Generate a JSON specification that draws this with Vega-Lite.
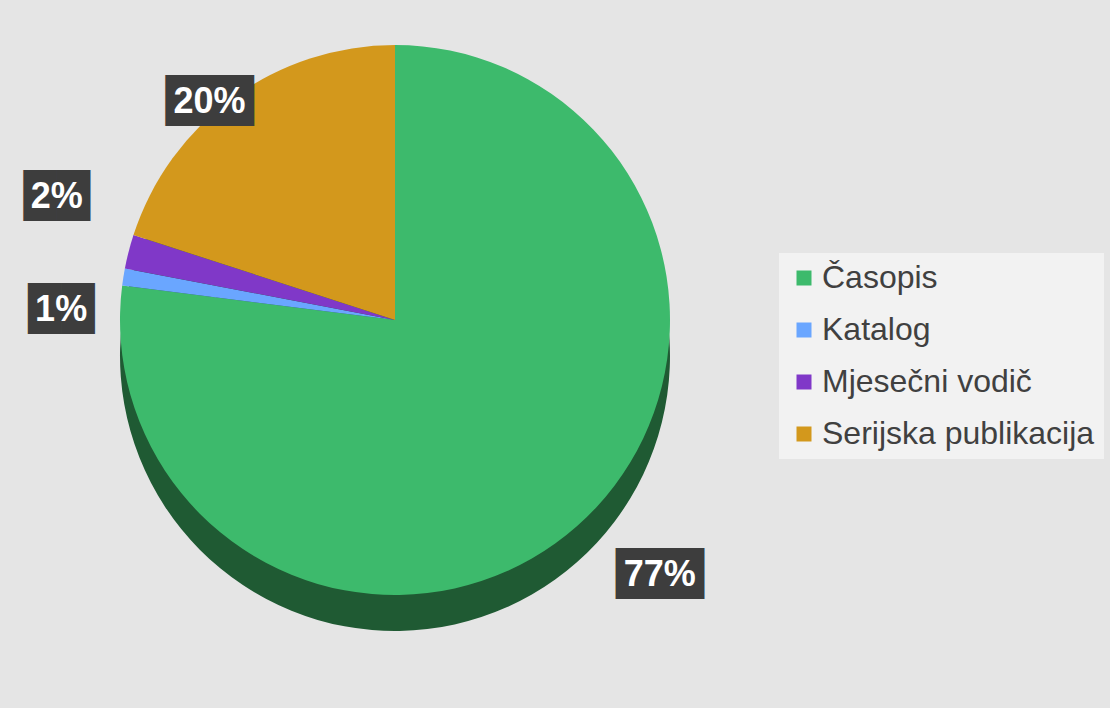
{
  "$schema": "https://vega.github.io/schema/vega-lite/v6.json",
  "width": 700,
  "height": 600,
  "autosize": "none",
  "padding": {"left": 45, "top": 20, "right": 365, "bottom": 88},
  "background": "#e5e5e5",
  "config": {"view": {"stroke": null}},
  "data": {"values": [
    {"category": "Časopis", "value": 0.77, "order": 1},
    {"category": "Katalog", "value": 0.01, "order": 2},
    {"category": "Mjesečni vodič", "value": 0.02, "order": 3},
    {"category": "Serijska publikacija", "value": 0.20, "order": 4}
  ]},
  "encoding": {
    "theta": {"field": "value", "type": "quantitative", "stack": true},
    "order": {"field": "order", "type": "quantitative"},
    "detail": {"field": "category", "type": "nominal"}
  },
  "layer": [
    {
      "mark": {"type": "arc", "outerRadius": 275, "yOffset": 36, "color": "#1f5a33"}
    },
    {
      "mark": {"type": "arc", "outerRadius": 275},
      "encoding": {
        "color": {
          "field": "category", "type": "nominal",
          "scale": {"domain": ["Časopis", "Katalog", "Mjesečni vodič", "Serijska publikacija"],
                    "range": ["#3dba6c", "#6aa6ff", "#8038c8", "#d3981c"]},
          "legend": {
            "title": null, "orient": "none", "legendX": 734, "legendY": 233,
            "fillColor": "#f2f2f2", "padding": 9,
            "labelFont": "Liberation Sans", "labelFontSize": 32, "labelColor": "#404040",
            "labelLimit": 400, "labelOffset": 2,
            "symbolType": "square", "symbolSize": 225, "symbolStrokeWidth": 0, "symbolOpacity": 1,
            "rowPadding": 20
          }
        }
      }
    },
    {
      "mark": {"type": "text", "radius": 340, "dx": 29, "font": "DejaVu Sans", "fontSize": 43, "color": "#3d3d3d"},
      "encoding": {"text": {"condition": {"test": "datum.category === 'Časopis'", "value": "██"}, "value": ""}}
    },
    {
      "mark": {"type": "text", "radius": 340, "dx": 51, "font": "DejaVu Sans", "fontSize": 43, "color": "#3d3d3d"},
      "encoding": {"text": {"condition": {"test": "datum.category === 'Časopis'", "value": "██"}, "value": ""}}
    },
    {
      "mark": {"type": "text", "radius": 340, "dx": 40, "font": "Liberation Sans", "fontWeight": "bold", "fontSize": 36, "color": "white"},
      "encoding": {"text": {"condition": {"test": "datum.category === 'Časopis'", "field": "value", "type": "quantitative", "format": ".0%"}, "value": ""}}
    },
    {
      "mark": {"type": "text", "radius": 335, "dy": 42, "dx": -3, "font": "DejaVu Sans", "fontSize": 43, "color": "#3d3d3d"},
      "encoding": {"text": {"condition": {"test": "datum.category === 'Katalog'", "value": "██"}, "value": ""}}
    },
    {
      "mark": {"type": "text", "radius": 335, "dy": 42, "dx": -3, "font": "Liberation Sans", "fontWeight": "bold", "fontSize": 36, "color": "white"},
      "encoding": {"text": {"condition": {"test": "datum.category === 'Katalog'", "field": "value", "type": "quantitative", "format": ".0%"}, "value": ""}}
    },
    {
      "mark": {"type": "text", "radius": 340, "dy": -38, "dx": -9, "font": "DejaVu Sans", "fontSize": 43, "color": "#3d3d3d"},
      "encoding": {"text": {"condition": {"test": "datum.category === 'Mjesečni vodič'", "value": "██"}, "value": ""}}
    },
    {
      "mark": {"type": "text", "radius": 340, "dy": -38, "dx": -9, "font": "Liberation Sans", "fontWeight": "bold", "fontSize": 36, "color": "white"},
      "encoding": {"text": {"condition": {"test": "datum.category === 'Mjesečni vodič'", "field": "value", "type": "quantitative", "format": ".0%"}, "value": ""}}
    },
    {
      "mark": {"type": "text", "radius": 295, "dy": 21, "dx": -23, "font": "DejaVu Sans", "fontSize": 43, "color": "#3d3d3d"},
      "encoding": {"text": {"condition": {"test": "datum.category === 'Serijska publikacija'", "value": "██"}, "value": ""}}
    },
    {
      "mark": {"type": "text", "radius": 295, "dy": 21, "dx": -1, "font": "DejaVu Sans", "fontSize": 43, "color": "#3d3d3d"},
      "encoding": {"text": {"condition": {"test": "datum.category === 'Serijska publikacija'", "value": "██"}, "value": ""}}
    },
    {
      "mark": {"type": "text", "radius": 295, "dy": 21, "dx": -12, "font": "Liberation Sans", "fontWeight": "bold", "fontSize": 36, "color": "white"},
      "encoding": {"text": {"condition": {"test": "datum.category === 'Serijska publikacija'", "field": "value", "type": "quantitative", "format": ".0%"}, "value": ""}}
    }
  ]
}
